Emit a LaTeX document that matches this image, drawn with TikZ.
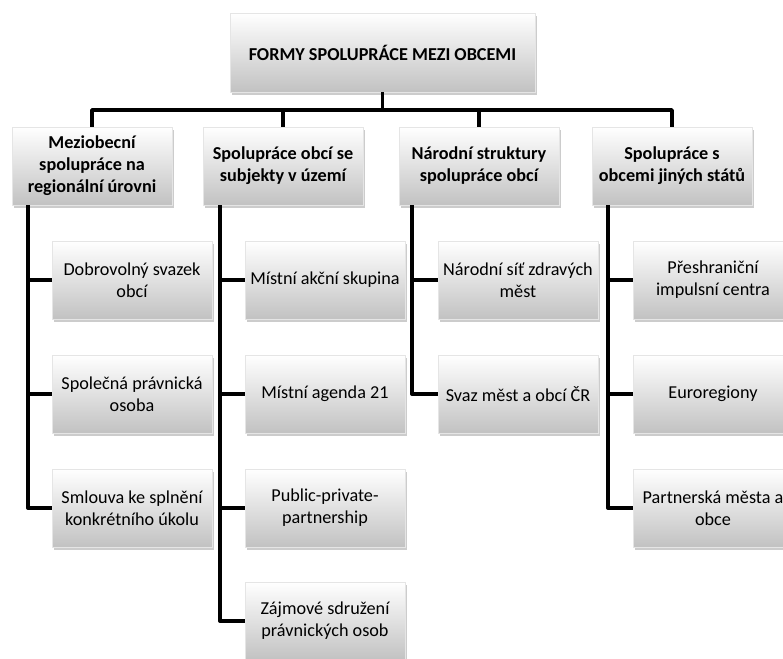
\documentclass[tikz,border=0pt]{standalone}
\usepackage{fontspec}
\setmainfont{Carlito}
\usetikzlibrary{shadows}
\begin{document}
\begin{tikzpicture}[x=1pt,y=1pt,
    font=\fontsize{18.2}{22}\selectfont,
    box/.style={minimum width=160pt,minimum height=78pt,align=center,inner sep=2pt,
      top color=white,bottom color=black!24,draw=black!10,line width=.4pt,
      drop shadow={shadow xshift=1.5pt,shadow yshift=-3pt,opacity=.4}},
    head/.style={box,font=\fontsize{18.2}{22}\selectfont\bfseries},
    link/.style={line width=3.6pt,black,line join=round}]
  \useasboundingbox (0,0) rectangle (783,-658);
  \draw
    (382.5,-52.5) node[head,minimum width=305pt,minimum height=79pt] (root){FORMY SPOLUPRÁCE MEZI OBCEMI}
    (92,-166) node[head] (m1){Meziobecní\\spolupráce na\\regionální úrovni}
    (283,-166) node[head] (m2){Spolupráce obcí se\\subjekty v území}
    (479,-166) node[head] (m3){Národní struktury\\spolupráce obcí}
    (672,-166) node[head] (m4){Spolupráce s\\obcemi jiných států};
  \draw
    (132,-280) node[box] (a1){Dobrovolný svazek\\obcí}
    (132,-394) node[box] (a2){Společná právnická\\osoba}
    (132,-508) node[box] (a3){Smlouva ke splnění\\konkrétního úkolu};
  \draw
    (325,-280) node[box] (b1){Místní akční skupina}
    (325,-394) node[box] (b2){Místní agenda 21}
    (325,-508) node[box] (b3){Public-private-\\partnership}
    (325,-621) node[box] (b4){Zájmové sdružení\\právnických osob};
  \draw
    (518,-280) node[box] (c1){Národní síť zdravých\\měst}
    (518,-394) node[box] (c2){Svaz měst a obcí ČR};
  \draw
    (713,-280) node[box] (d1){Přeshraniční\\impulsní centra}
    (713,-394) node[box] (d2){Euroregiony}
    (713,-508) node[box] (d3){Partnerská města a\\obce};
  \coordinate (bar) at (0,-110);
  \coordinate (t1) at ([xshift=16pt]m1.south west);
  \coordinate (t2) at ([xshift=17pt]m2.south west);
  \coordinate (t3) at ([xshift=13pt]m3.south west);
  \coordinate (t4) at ([xshift=16pt]m4.south west);
  \begin{scope}[link]
    \draw (root) to (root.south |- bar);
    \draw (m1.north) -- (m1.north |- bar) -- (m4.north |- bar) -- (m4.north);
    \draw (m2.north) to (m2.north |- bar);
    \draw (m3.north) to (m3.north |- bar);
    \draw (t1) |- (a1.west);
    \draw (t1) |- (a2.west);
    \draw (t1) |- (a3.west);
    \draw (t2) |- (b1.west);
    \draw (t2) |- (b2.west);
    \draw (t2) |- (b3.west);
    \draw (t2) |- (b4.west);
    \draw (t3) |- (c1.west);
    \draw (t3) |- (c2.west);
    \draw (t4) |- (d1.west);
    \draw (t4) |- (d2.west);
    \draw (t4) |- (d3.west);
  \end{scope}
\end{tikzpicture}
\end{document}
